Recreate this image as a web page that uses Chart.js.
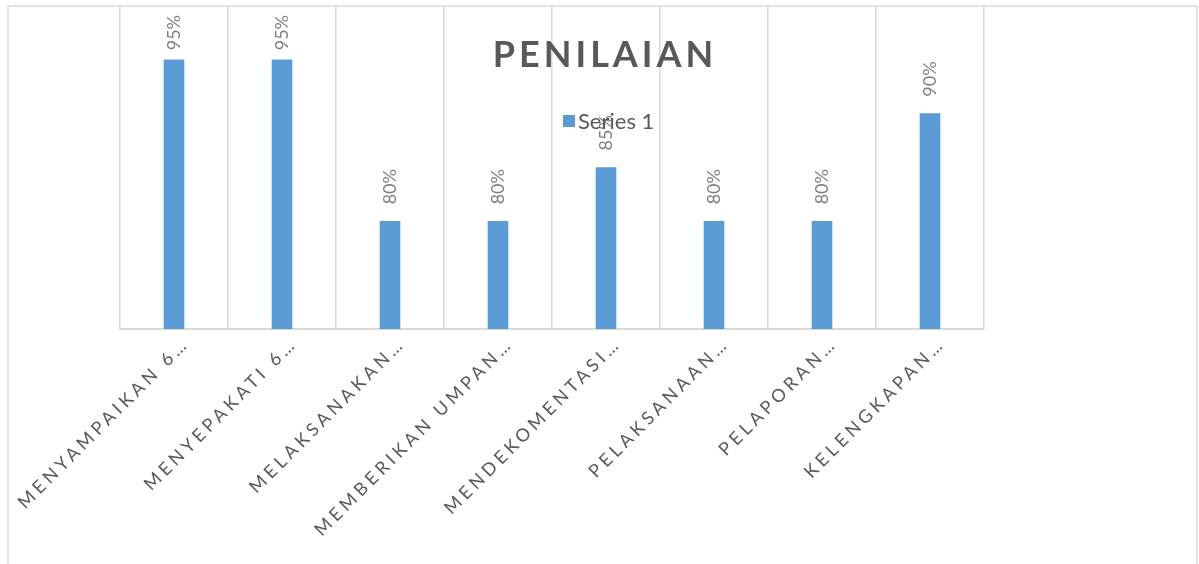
<!DOCTYPE html>
<html>
<head>
<meta charset="utf-8">
<script src="https://cdn.jsdelivr.net/npm/chart.js@4.4.0/dist/chart.umd.min.js"></script>
<style>
  html, body { margin: 0; padding: 0; background: #fff; }
  #wrap { position: relative; width: 1199px; height: 564px; }
</style>
</head>
<body>
<div id="wrap"><canvas id="myChart"></canvas></div>
<script>
const categories = ['MENYAMPAIKAN 6…', 'MENYEPAKATI 6…', 'MELAKSANAKAN…', 'MEMBERIKAN UMPAN…',
  'MENDEKOMENTASI…', 'PELAKSANAAN…', 'PELAPORAN…', 'KELENGKAPAN…'];
const series1 = [95, 95, 80, 80, 85, 80, 80, 90];
const seriesName = 'Series 1';
const chartTitle = 'PENILAIAN';

const barColor = '#5b9bd5';
const lineColor = '#d9d9d9';
const textColor = '#595959';

// title, legend, data labels and the letter spaced axis text
const officeLook = {
  id: 'officeLook',
  beforeDraw(chart) {
    const ctx = chart.ctx;
    ctx.letterSpacing = '0px';
    ctx.save();
    ctx.strokeStyle = lineColor;
    ctx.lineWidth = 1.5;
    ctx.strokeRect(8, 6, 1189, 600);
    ctx.restore();
  },
  afterDatasetsDraw(chart) {
    const ctx = chart.ctx;
    const meta = chart.getDatasetMeta(0);
    const top = chart.chartArea.top + 9;
    ctx.save();
    ctx.font = '18px Lato';
    ctx.fillStyle = '#7f7f7f';
    ctx.textAlign = 'left';
    ctx.textBaseline = 'middle';
    meta.data.forEach(function(bar, i) {
      const txt = series1[i] + '%';
      const len = ctx.measureText(txt).width;
      // keep the label inside the plot like office does
      const start = Math.max(bar.y - 17, top + len);
      ctx.save();
      ctx.translate(bar.x, start);
      ctx.rotate(-Math.PI / 2);
      ctx.fillText(txt, 0, 0);
      ctx.restore();
    });
    ctx.restore();
    // x labels are drawn after this (ticks z: 1)
    ctx.letterSpacing = '4px';
  },
  afterDraw(chart) {
    const ctx = chart.ctx;
    ctx.letterSpacing = '0px';
    ctx.save();
    ctx.letterSpacing = '4px';
    ctx.font = 'bold 36px Lato';
    ctx.fillStyle = textColor;
    ctx.textAlign = 'center';
    ctx.textBaseline = 'middle';
    ctx.fillText(chartTitle, 605, 55);
    ctx.letterSpacing = '0px';

    ctx.fillStyle = barColor;
    ctx.fillRect(563, 115, 12, 12);
    ctx.font = '22px Lato';
    ctx.fillStyle = textColor;
    ctx.textAlign = 'left';
    ctx.fillText(seriesName, 578, 122);
    ctx.restore();
  }
};

const ctx = document.getElementById('myChart');
new Chart(ctx, {
  type: 'bar',
  data: {
    labels: categories,
    datasets: [{
      label: seriesName,
      data: series1,
      backgroundColor: barColor,
      barThickness: 20
    }]
  },
  options: {
    responsive: true,
    maintainAspectRatio: false,
    animation: false,
    layout: { padding: { left: 120, right: 215, top: 6, bottom: 0 } },
    plugins: {
      legend: { display: false },
      title: { display: false },
      tooltip: { enabled: false }
    },
    scales: {
      x: {
        grid: { color: lineColor, lineWidth: 1.5, drawTicks: false, offset: true },
        border: { color: lineColor, width: 2 },
        ticks: {
          z: 1,
          color: textColor,
          font: { family: 'Lato', size: 18 },
          minRotation: 45,
          maxRotation: 45,
          autoSkip: false,
          padding: 4,
          labelOffset: 12
        },
        afterFit: function(scale) {
          scale.height = 235;
          scale.paddingLeft = 0;
          scale.paddingRight = 0;
        }
      },
      y: {
        display: false,
        min: 70,
        max: 100
      }
    }
  },
  plugins: [officeLook]
});
</script>
</body>
</html>
